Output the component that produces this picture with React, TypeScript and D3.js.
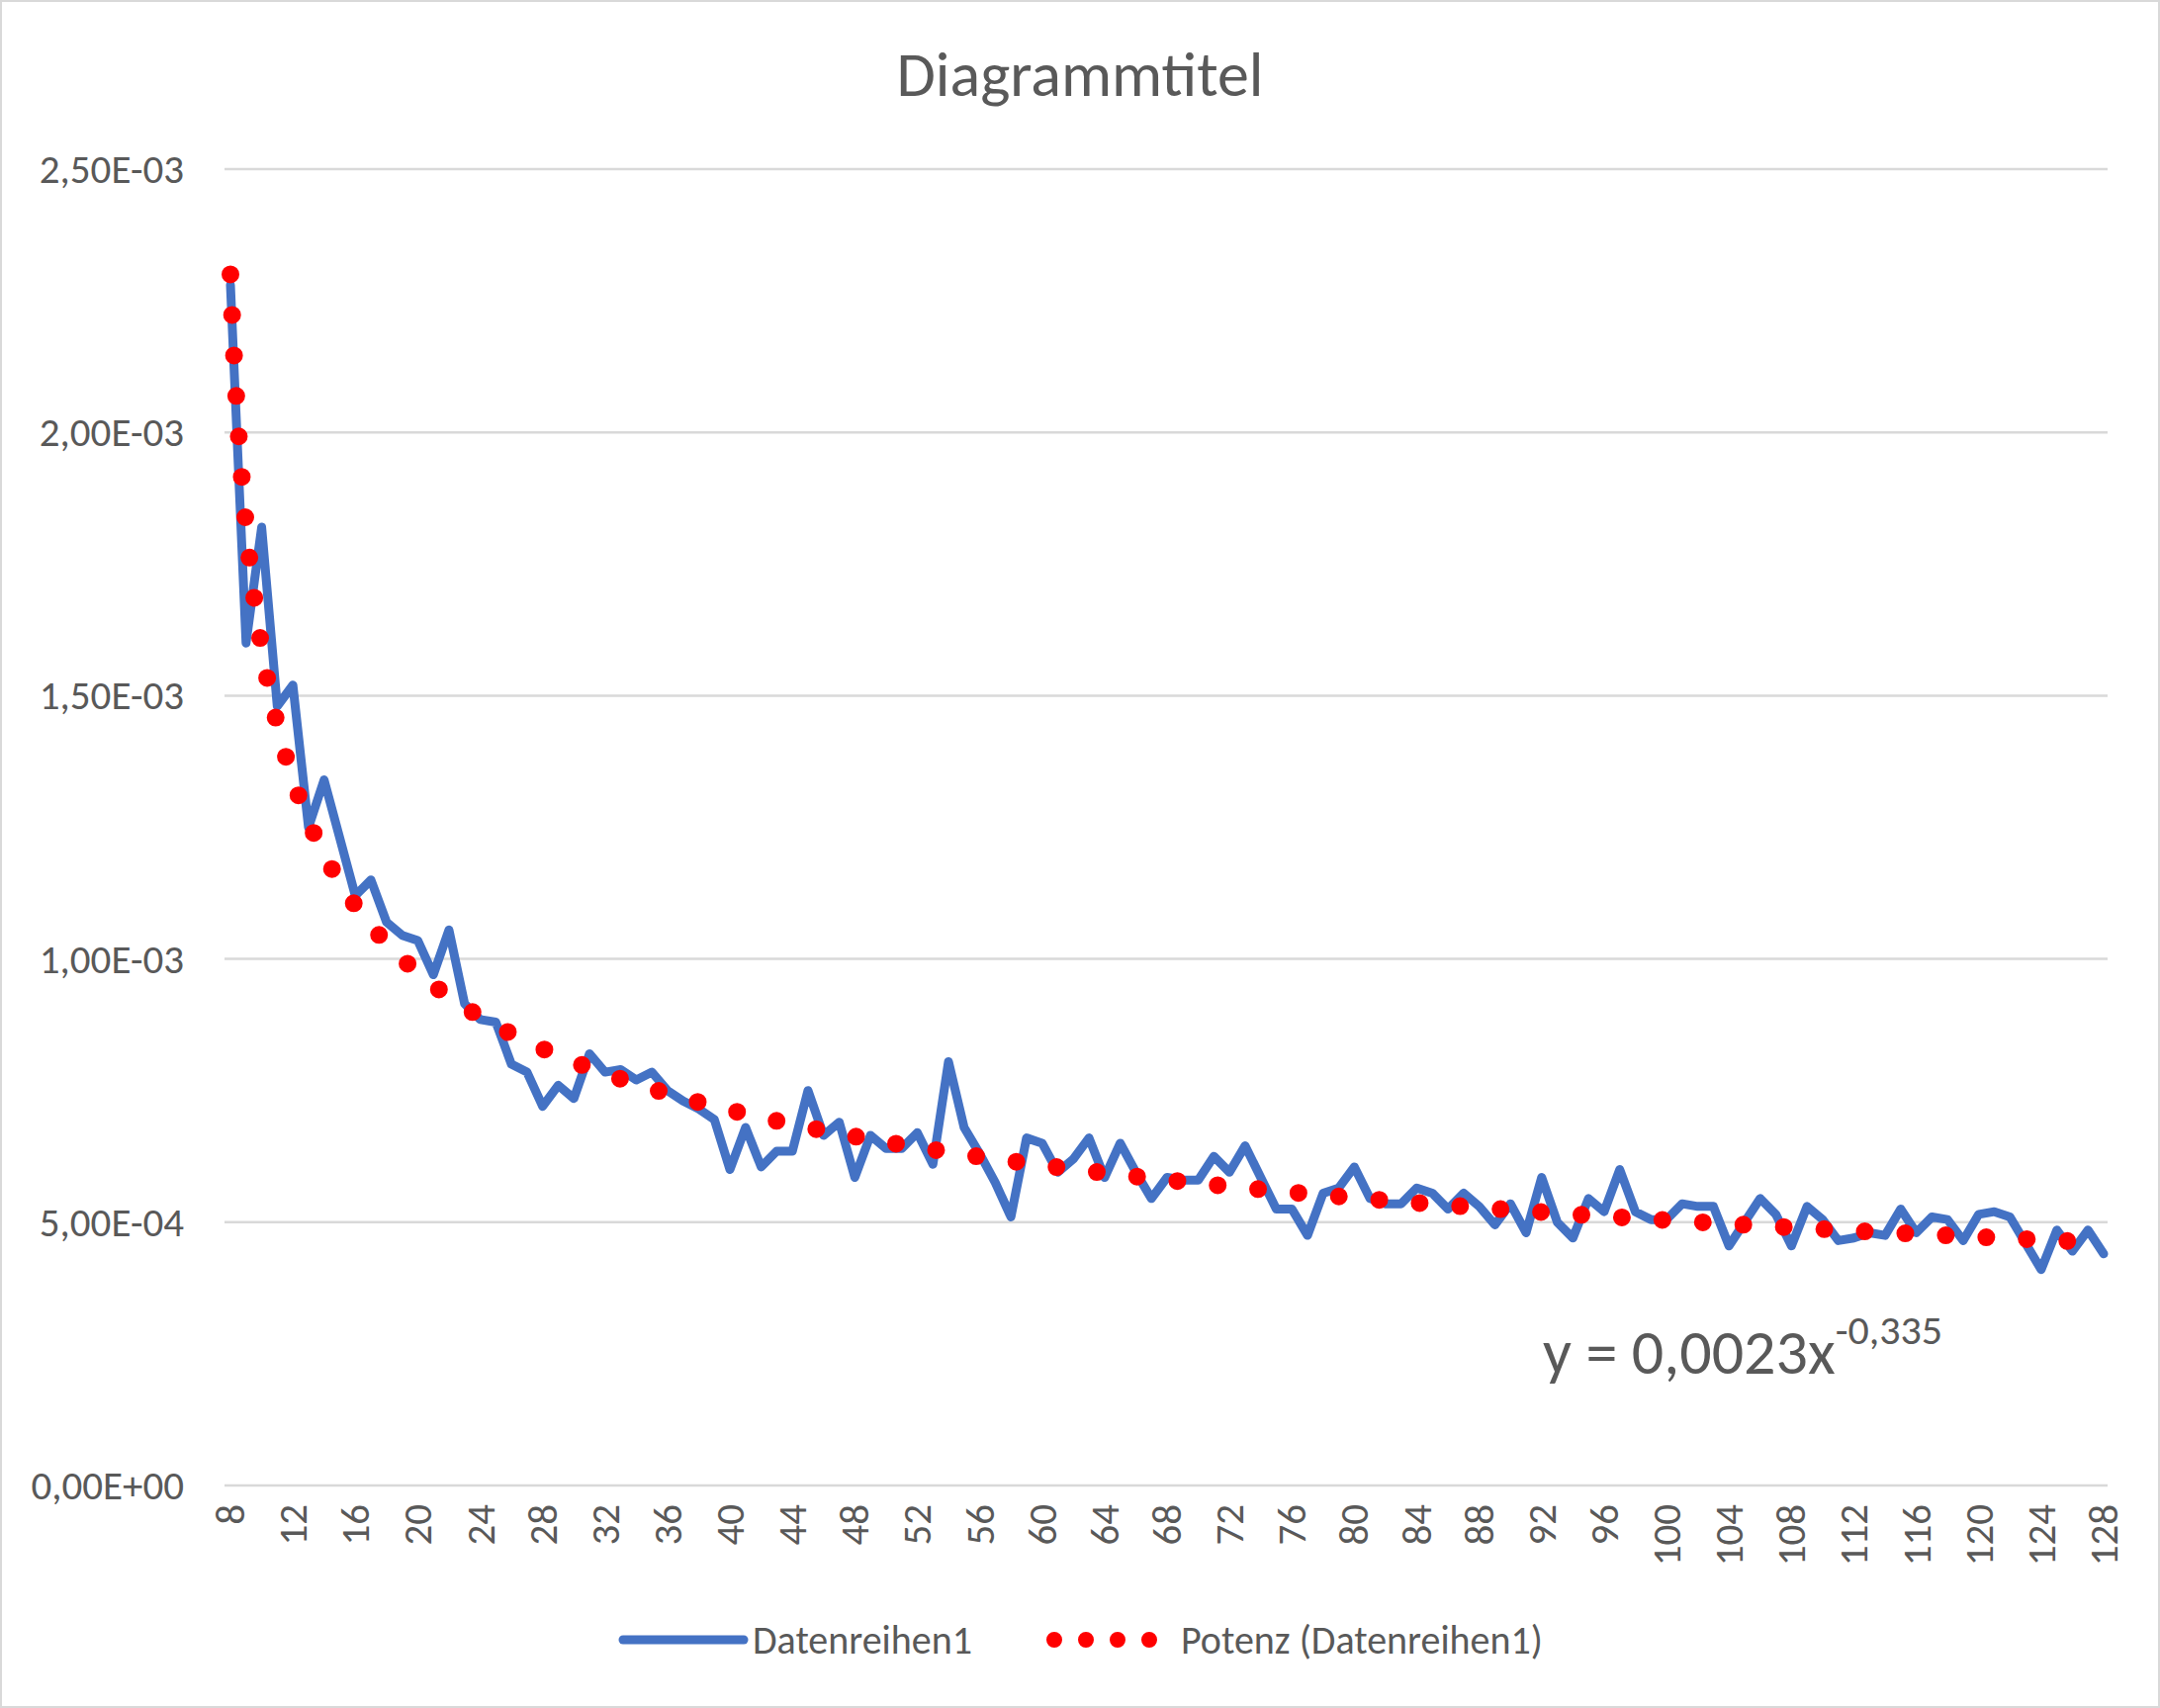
import * as d3 from 'd3'

const CATEGORIES = d3.range(8, 129)
const VALUES = [
  2.28, 1.60, 1.82, 1.48, 1.52, 1.25, 1.34, 1.23, 1.12, 1.15,
  1.07, 1.045, 1.035, 0.97, 1.055, 0.915, 0.885, 0.88, 0.80, 0.785,
  0.72, 0.76, 0.735, 0.82, 0.785, 0.79, 0.77, 0.785, 0.75, 0.73,
  0.715, 0.695, 0.60, 0.68, 0.605, 0.635, 0.635, 0.75, 0.665, 0.69,
  0.585, 0.665, 0.64, 0.64, 0.67, 0.61, 0.805, 0.68, 0.63, 0.575,
  0.51, 0.66, 0.65, 0.595, 0.62, 0.66, 0.585, 0.65, 0.595, 0.545,
  0.585, 0.58, 0.58, 0.625, 0.595, 0.645, 0.585, 0.525, 0.525, 0.475,
  0.555, 0.565, 0.605, 0.545, 0.535, 0.535, 0.565, 0.555, 0.525, 0.555,
  0.53, 0.495, 0.535, 0.48, 0.585, 0.50, 0.47, 0.545, 0.52, 0.60,
  0.52, 0.505, 0.505, 0.535, 0.53, 0.53, 0.455, 0.50, 0.545, 0.515,
  0.455, 0.53, 0.505, 0.465, 0.47, 0.48, 0.475, 0.525, 0.48, 0.51,
  0.505, 0.465, 0.515, 0.52, 0.51, 0.46, 0.41, 0.485, 0.445, 0.485,
  0.44,
].map((v) => v * 1e-3)
const Y_TICKS = [0, 5e-4, 1e-3, 1.5e-3, 2e-3, 2.5e-3]
const TREND_A = 0.0023
const TREND_B = -0.335
const TITLE = 'Diagrammtitel'
const SERIES_NAME = 'Datenreihen1'
const TREND_NAME = 'Potenz (Datenreihen1)'

const W = 2184
const H = 1727
const TXT = '#595959'
const FONT = 'Calibri, Carlito, "Open Sans", "Noto Sans", sans-serif'

function fmtSci(v: number) {
  const [m, e] = v.toExponential(2).split('e')
  const n = parseInt(e)
  return `${m.replace('.', ',')}E${n < 0 ? '-' : '+'}${String(Math.abs(n)).padStart(2, '0')}`
}

export default function App() {
  const x = d3.scaleLinear().domain([0, CATEGORIES.length - 1]).range([233, 2127])
  const y = d3.scaleLinear().domain([0, 2.5e-3]).range([1502, 171])
  const line = d3.line<number>().x((_, i) => x(i)).y((d) => y(d))
  const trendPts = d3.range(1, CATEGORIES.length + 0.001, 0.05).map((t) => [x(t - 1), y(TREND_A * Math.pow(t, TREND_B))] as [number, number])
  const trendLine = d3.line<[number, number]>()

  return (
    <svg width={W} height={H} style={{ position: 'absolute', left: 0, top: 0, background: '#fff' }} fontFamily={FONT}>
      <rect x={1} y={1} width={W - 2} height={H - 2} fill="#fff" stroke="#d9d9d9" strokeWidth={2} />
      <text x={1092} y={97} textAnchor="middle" fontSize={64} fill={TXT}>{TITLE}</text>
      {Y_TICKS.map((t) => (
        <g key={t}>
          <line x1={227} x2={2131} y1={y(t)} y2={y(t)} stroke="#d9d9d9" strokeWidth={2.5} />
          <text x={186} y={y(t) + 14} textAnchor="end" fontSize={41} fill={TXT}>{fmtSci(t)}</text>
        </g>
      ))}
      {CATEGORIES.map((c, i) => (i % 4 === 0 ? (
        <text key={c} transform={`translate(${x(i) + 14},1521) rotate(-90)`} textAnchor="end" fontSize={41} fill={TXT}>{c}</text>
      ) : null))}
      <path d={line(VALUES) ?? ''} fill="none" stroke="#4472C4" strokeWidth={9} strokeLinejoin="round" strokeLinecap="round" />
      <path d={trendLine(trendPts) ?? ''} fill="none" stroke="#FF0000" strokeWidth={18} strokeLinecap="round" strokeDasharray="0 41" />
      <text x={1560} y={1389} fontSize={64} fill={TXT}>
        y = 0,0023x<tspan dy={-30} fontSize={42}>-0,335</tspan>
      </text>
      <line x1={630} x2={752} y1={1658} y2={1658} stroke="#4472C4" strokeWidth={9} strokeLinecap="round" />
      <text x={761} y={1672} fontSize={40} fill={TXT}>{SERIES_NAME}</text>
      <line x1={1066} x2={1163} y1={1658} y2={1658} stroke="#FF0000" strokeWidth={16} strokeLinecap="round" strokeDasharray="0 32" />
      <text x={1194} y={1672} fontSize={40} fill={TXT}>{TREND_NAME}</text>
    </svg>
  )
}
